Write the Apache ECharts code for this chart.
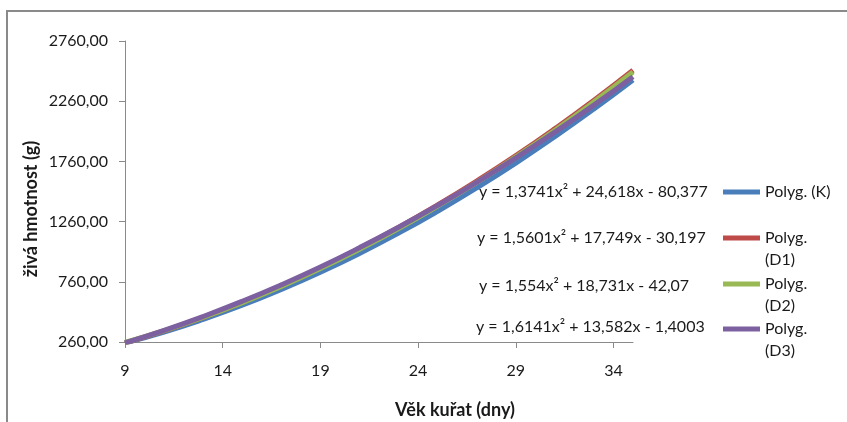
<!DOCTYPE html>
<html>
<head>
<meta charset="utf-8">
<script src="https://cdn.jsdelivr.net/npm/echarts@6/dist/echarts.min.js"></script>
<style>
  html, body { margin: 0; padding: 0; background: #ffffff; }
  #chart { width: 847px; height: 422px; }
</style>
</head>
<body>
<div id="chart"></div>
<script>
// ---- data ----
const days = [9, 11, 13, 15, 17, 19, 21, 23, 25, 27, 29, 31, 33, 35];
const seriesNames = ['Polyg. (K)', 'Polyg. (D1)', 'Polyg. (D2)', 'Polyg. (D3)'];
const valuesK  = [252, 343, 448, 565, 696, 839, 995, 1164, 1346, 1540, 1746, 1965, 2195, 2436];
const valuesD1 = [252, 352, 464, 589, 726, 875, 1037, 1211, 1398, 1597, 1808, 2032, 2268, 2517];
const valuesD2 = [256, 354, 464, 587, 722, 870, 1031, 1203, 1389, 1586, 1797, 2019, 2255, 2502];
const valuesD3 = [253, 357, 472, 598, 735, 883, 1043, 1213, 1394, 1586, 1789, 2003, 2228, 2464];
const xTicks = [9, 14, 19, 24, 29, 34];
const yTicks = [260, 760, 1260, 1760, 2260, 2760];
const equations = [
  'y = 1,3741x² + 24,618x - 80,377',
  'y = 1,5601x² + 17,749x - 30,197',
  'y = 1,554x² + 18,731x - 42,07',
  'y = 1,6141x² + 13,582x - 1,4003'
];
const xTitle = 'Věk kuřat (dny)';
const yTitle = 'živá hmotnost (g)';

// ---- styling ----
const colors = ['#4a7ebb', '#be4b48', '#98b954', '#7d60a0'];
const FONT = 'Lato, "Open Sans", sans-serif';
const textColor = '#1a1a1a';
const axisColor = '#8a8a8a';

const allValues = [valuesK, valuesD1, valuesD2, valuesD3];

const series = seriesNames.map((name, i) => ({
  name: name,
  type: 'line',
  smooth: true,
  showSymbol: false,
  symbol: 'none',
  data: days.map((d, j) => [d, allValues[i][j]]),
  lineStyle: { color: colors[i], width: 5 },
  itemStyle: { color: colors[i] },
  z: 2 + i
}));

// legend rows (icon center y)
const legendY = [192, 238, 284, 329];
const legends = seriesNames.map((name, i) => ({
  data: [name],
  left: 723,
  top: legendY[i] - 8,
  padding: 0,
  orient: 'vertical',
  icon: 'rect',
  itemWidth: 37,
  itemHeight: 5,
  selectedMode: false,
  formatter: function (n) { return i === 0 ? n : 'Polyg.'; },
  textStyle: { fontFamily: FONT, fontSize: 16, color: textColor }
}));

const eqPos = [[479, 192], [477, 238], [479, 286], [476, 327]];
const graphics = [
  {
    type: 'rect', silent: true, z: -10,
    shape: { x: 7, y: 11, width: 1000, height: 600 },
    style: { fill: 'none', stroke: axisColor, lineWidth: 2 }
  },
  {
    type: 'text', x: 31, y: 209, rotation: Math.PI / 2,
    style: { text: yTitle, font: 'bold 18px ' + FONT, fill: textColor, align: 'center', verticalAlign: 'middle' }
  },
  {
    type: 'text', x: 455, y: 410,
    style: { text: xTitle, font: 'bold 18px ' + FONT, fill: textColor, align: 'center', verticalAlign: 'middle' }
  }
];
equations.forEach((t, i) => {
  graphics.push({
    type: 'text', x: eqPos[i][0], y: eqPos[i][1],
    style: { text: t, font: '16px ' + FONT, fill: textColor, align: 'left', verticalAlign: 'middle' }
  });
});
['(D1)', '(D2)', '(D3)'].forEach((t, i) => {
  graphics.push({
    type: 'text', x: 765, y: legendY[i + 1] + 22,
    style: { text: t, font: '16px ' + FONT, fill: textColor, align: 'left', verticalAlign: 'middle' }
  });
});

const chart = echarts.init(document.getElementById('chart'), null, { renderer: 'canvas' });
chart.setOption({
  backgroundColor: '#ffffff',
  animation: false,
  grid: { left: 125, top: 41, width: 508, height: 301, containLabel: false },
  xAxis: {
    type: 'value',
    min: 9, max: 35, interval: 5,
    splitLine: { show: false },
    axisLine: { show: true, lineStyle: { color: axisColor, width: 1 } },
    axisTick: { show: true, length: 6, inside: false, customValues: xTicks, lineStyle: { color: axisColor } },
    axisLabel: {
      customValues: xTicks,
      margin: 21,
      fontFamily: FONT, fontSize: 16, color: textColor
    }
  },
  yAxis: {
    type: 'value',
    min: 260, max: 2760, interval: 500,
    splitLine: { show: false },
    axisLine: { show: true, lineStyle: { color: axisColor, width: 1 } },
    axisTick: { show: true, length: 6, inside: false, customValues: yTicks, lineStyle: { color: axisColor } },
    axisLabel: {
      customValues: yTicks,
      margin: 17,
      fontFamily: FONT, fontSize: 16, color: textColor,
      formatter: function (v) { return v.toFixed(2).replace('.', ','); }
    }
  },
  legend: legends,
  graphic: graphics,
  series: series
});
</script>
</body>
</html>
